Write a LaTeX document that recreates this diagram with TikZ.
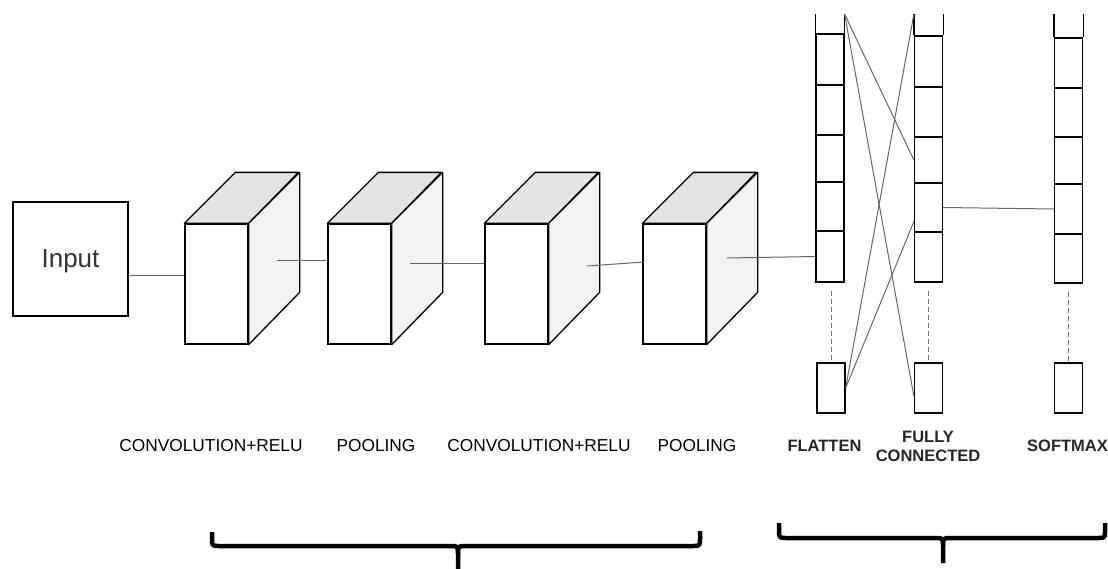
\documentclass[tikz,border=0pt]{standalone}
\usepackage{fontspec}
\setmainfont{Liberation Sans}
\usetikzlibrary{calc}
\definecolor{topface}{HTML}{E3E3E3}
\definecolor{sideface}{HTML}{F2F2F2}
\begin{document}
\begin{tikzpicture}[x=1pt,y=-1pt,
  box/.style={draw=black, line width=1.3pt, fill=white, inner sep=0pt},
  face/.style={draw=black, line width=1.3pt, line join=round},
  cell/.style={draw=black, line width=1.3pt, fill=white, minimum width=28pt, inner sep=0pt},
  conn/.style={draw=black!60, line width=1pt},
  dots/.style={draw=black!55, line width=1pt, dash pattern=on 5pt off 3pt},
  lbl/.style={font=\fontsize{17.3}{20}\selectfont, text=black, anchor=base, inner sep=0pt},
  lblb/.style={font=\fontsize{16.5}{19.5}\selectfont\bfseries, text=black!85, anchor=base, inner sep=0pt},
  brace/.style={draw=black, line width=4.5pt, line join=round},
]
\useasboundingbox (0,0) rectangle (1108,568);

% input
\node[box, minimum width=115pt, minimum height=114pt, text depth=0pt,
      font=\fontsize{26}{30}\selectfont, text=black!80] (input) at (70.5,259) {Input};

% cubes
\foreach \n/\x in {1/216.5, 2/359.5, 3/516.5, 4/674.5}{
  \node[box, minimum width=63pt, minimum height=120pt] (f\n) at (\x,284) {};
  \draw[face, fill=topface] (f\n.north west) -- ++(51,-51) -- ++(63,0) -- (f\n.north east) -- cycle;
  \draw[face, fill=sideface] (f\n.north east) -- ++(51,-51) -- ++(0,120) -- (f\n.south east) -- cycle;
}

% flatten column
\foreach \t/\b [count=\i] in {34/85,85/135,135/182,182/231,231/282}
  \node[cell, minimum height={\b-\t}] (fl\i) at (830,{(\t+\b)/2}) {};
\coordinate (fltop) at ($(fl1.north east)+(0,-19)$);
\coordinate (fltopw) at ($(fl1.north west)+(0,-19)$);
\draw[line width=1.3pt] (fltopw) -- (fl1.north west) (fltop) -- (fl1.north east);
\node[cell, minimum height=50pt] (flb) at (831,388) {};

% fully connected column
\foreach \t/\b [count=\i] in {36/87,87/137,137/183,183/232,232/282}
  \node[cell, minimum height={\b-\t}] (fc\i) at (928.5,{(\t+\b)/2}) {};
\coordinate (fctop) at ($(fc1.north west)+(0,-21)$);
\coordinate (fctope) at ($(fc1.north east)+(0,-21)$);
\draw[line width=1.3pt] (fctop) -- (fc1.north west) (fctope) -- (fc1.north east);
\node[cell, minimum height=50pt] (fcb) at (928.5,388) {};

% softmax column
\foreach \t/\b [count=\i] in {38/88,88/137,137/184,184/234,234/283}
  \node[cell, minimum height={\b-\t}] (sm\i) at (1068.5,{(\t+\b)/2}) {};
\coordinate (smtopw) at ($(sm1.north west)+(0,-23)$);
\coordinate (smtope) at ($(sm1.north east)+(0,-23)$);
\draw[line width=1.3pt] (smtopw) -- (sm1.north west) (smtope) -- (sm1.north east);
\node[cell, minimum height=50pt] (smb) at (1068.5,388) {};

% dotted continuations
\draw[dots] ($(fl5.south)+(1,8)$) -- (flb.north);
\draw[dots] ($(fc5.south)+(0,8)$) -- (fcb.north);
\draw[dots] ($(sm5.south)+(0,8)$) -- (smb.north);

% connectors
\coordinate (i1) at ($(input.east)+(0,16)$);
\draw[conn] (i1) -- (i1 -| f1.west);
\coordinate (s1) at (277,260);
\coordinate (s2) at (410,263);
\coordinate (s3) at (587,266);
\coordinate (s4) at (727,258);
\draw[conn] (s1) -- (s1 -| f2.west);
\draw[conn] (s2) -- (s2 -| f3.west);
\draw[conn] (s3) -- ($(f4.west)+(2,-22)$);
\draw[conn] (s4) -- (fl5.west);

\draw[conn] (fltop) -- (fc3.west);
\draw[conn] (fltop) -- ($(fcb.west)+(0,8)$);
\draw[conn] (fctop) -- (flb.east);
\draw[conn] ($(fc4.west)+(0,14)$) -- (flb.east);
\draw[conn] (fc4.east) -- (sm4.west);

% labels
\node[lbl] (l1) at (211,451) {CONVOLUTION+RELU};
\node[lbl] (l2) at (376,451) {POOLING};
\node[lbl] (l3) at (539,451) {CONVOLUTION+RELU};
\node[lbl] (l4) at (697,451) {POOLING};
\node[lblb] (l5) at (824.5,451) {FLATTEN};
\node[lblb] (l6a) at (928,442) {FULLY};
\node[lblb] (l6b) at (928,461) {CONNECTED};
\node[lblb, anchor=base west] (l7) at (1027,451) {SOFTMAX};

% braces
\draw[brace] (212,532) -- (212,538) .. controls (212,546) .. (220,546) -- (450,546)
  .. controls (458,546) .. (458,554) -- (458,570);
\draw[brace] (458,554) .. controls (458,546) .. (466,546) -- (692,546)
  .. controls (700,546) .. (700,538) -- (700,531);
\draw[brace] (779,523) -- (779,530) .. controls (779,538) .. (787,538) -- (935,538)
  .. controls (943,538) .. (943,546) -- (943,563);
\draw[brace] (943,546) .. controls (943,538) .. (951,538) -- (1097,538)
  .. controls (1105,538) .. (1105,530) -- (1105,523);
\end{tikzpicture}
\end{document}
